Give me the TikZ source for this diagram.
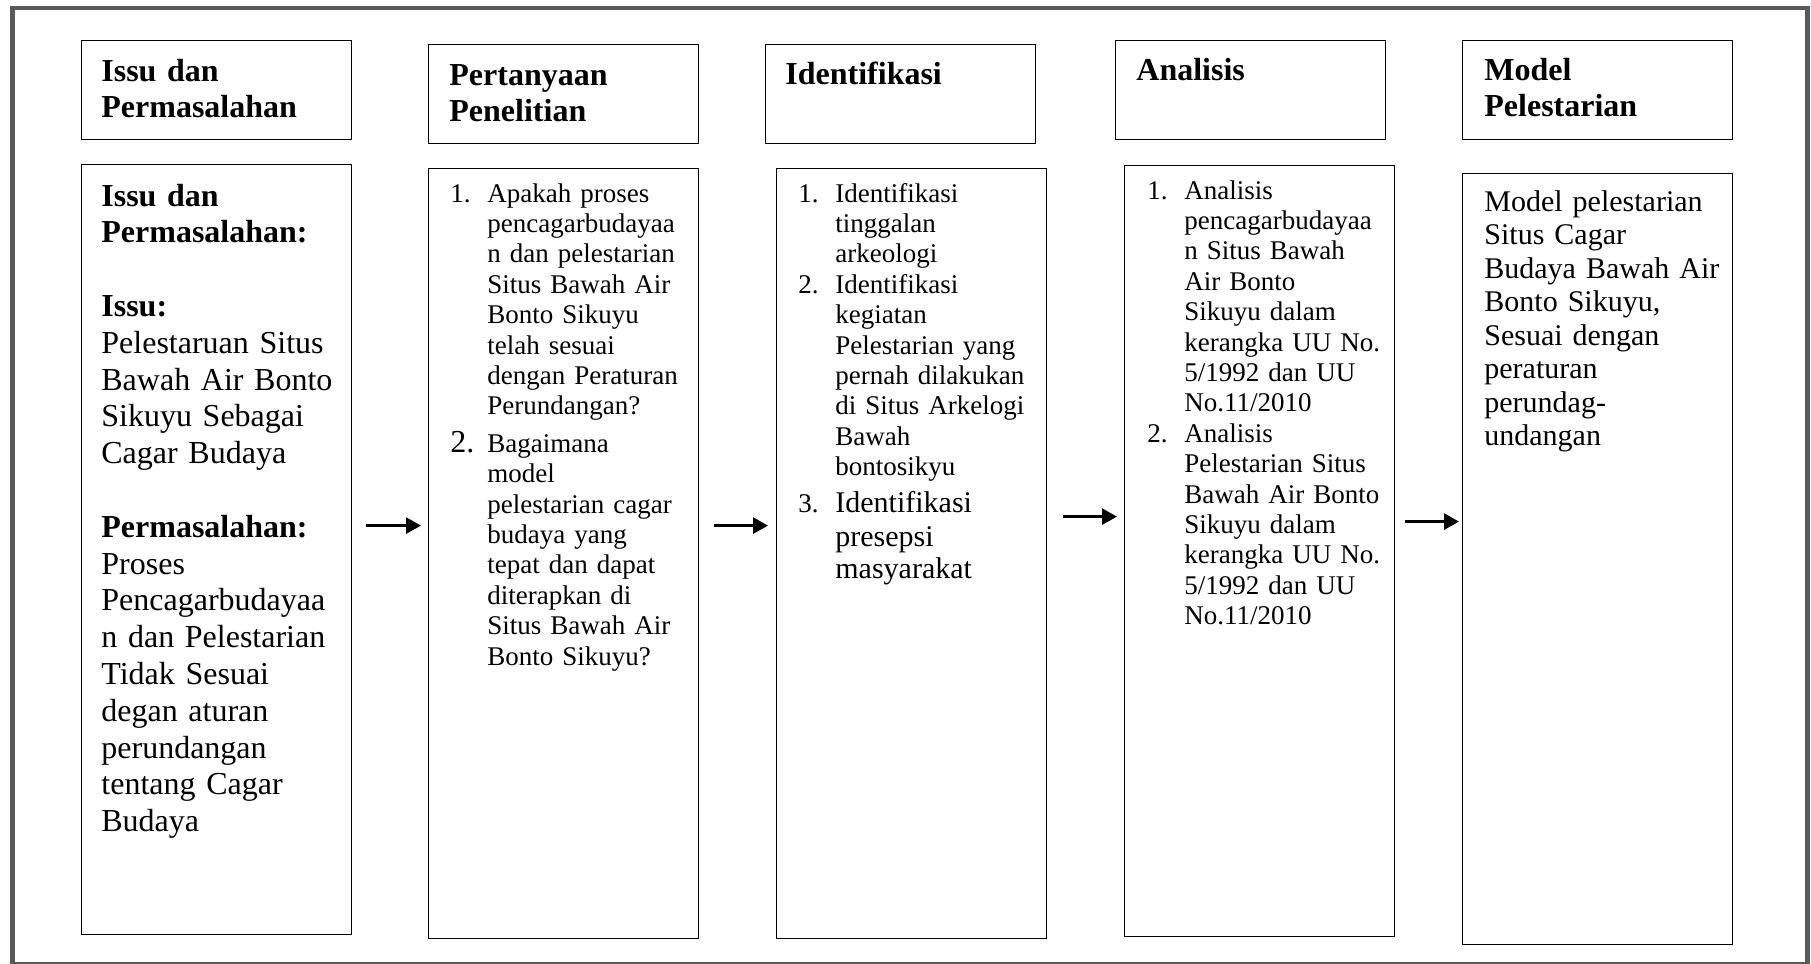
\documentclass[tikz,border=0pt]{standalone}
\usepackage{fontspec}
\setmainfont{Liberation Serif}
\usetikzlibrary{arrows.meta}
\newcommand{\itemno}[1]{\makebox[18.5pt][l]{#1}}
\newcommand{\contd}{\hspace*{18.5pt}}
\tikzset{
  head/.style={draw, line width=0.6pt, anchor=north west, minimum width=135pt, minimum height=49.5pt, inner sep=0pt},
  body/.style={draw, line width=0.6pt, anchor=north west, minimum width=135pt, minimum height=385pt, inner sep=0pt},
  headtxt/.style={anchor=base west, inner sep=0pt, text width=125pt, align=left, font=\fontsize{16}{18}\selectfont\bfseries},
  bodytxt/.style={anchor=base west, inner sep=0pt, text width=125pt, align=left, font=\fontsize{13.5}{15.2}\selectfont},
  flow/.style={line width=1.4pt, -{Triangle[length=7.5pt,width=8pt]}},
}
\begin{document}
\begin{tikzpicture}[x=0.5pt, y=0.5pt]
  \useasboundingbox (0,0) rectangle (1811,-964);
  % outer frame
  \draw[line width=2.2pt, color=black!65] (12.5,-8) rectangle (1807.5,-964);

  % headers
  \node[head] (h1) at (81,-40) {};
  \node[head] (h2) at (428,-44) {};
  \node[head] (h3) at (765,-44) {};
  \node[head] (h4) at (1115,-40) {};
  \node[head] (h5) at (1462,-40) {};
  \node[headtxt] (ht1) at ([shift={(20,-41)}]h1.north west) {Issu dan\\Permasalahan};
  \node[headtxt] (ht2) at ([shift={(21,-41)}]h2.north west) {Pertanyaan\\Penelitian};
  \node[headtxt] (ht3) at ([shift={(20,-40)}]h3.north west) {Identifikasi};
  \node[headtxt] (ht4) at ([shift={(21,-40)}]h4.north west) {Analisis};
  \node[headtxt] (ht5) at ([shift={(22,-40)}]h5.north west) {Model\\Pelestarian};

  % bodies
  \node[body] (b1) at (81,-164) {};
  \node[body] (b2) at (428,-168) {};
  \node[body] (b3) at (776,-168) {};
  \node[body, minimum height=385.5pt] (b4) at (1124,-165) {};
  \node[body, minimum height=385.5pt] (b5) at (1462,-173) {};

  \node[bodytxt, font=\fontsize{16}{18.4}\selectfont] (bt1) at ([shift={(20,-42)}]b1.north west) {%
    \textbf{Issu dan}\\
    \textbf{Permasalahan:}\\[18.4pt]
    \textbf{Issu:}\\
    Pelestaruan Situs\\
    Bawah Air Bonto\\
    Sikuyu Sebagai\\
    Cagar Budaya\\[18.4pt]
    \textbf{Permasalahan:}\\
    Proses\\
    Pencagarbudayaa\\
    n dan Pelestarian\\
    Tidak Sesuai\\
    degan aturan\\
    perundangan\\
    tentang Cagar\\
    Budaya};
  \node[bodytxt] (bt2) at ([shift={(22,-34)}]b2.north west) {%
    \itemno{1.}Apakah proses\\
    \contd pencagarbudayaa\\
    \contd n dan pelestarian\\
    \contd Situs Bawah Air\\
    \contd Bonto Sikuyu\\
    \contd telah sesuai\\
    \contd dengan Peraturan\\
    \contd Perundangan?\\[3.5pt]
    \itemno{\fontsize{16}{18}\selectfont 2.}Bagaimana\\
    \contd model\\
    \contd pelestarian cagar\\
    \contd budaya yang\\
    \contd tepat dan dapat\\
    \contd diterapkan di\\
    \contd Situs Bawah Air\\
    \contd Bonto Sikuyu?};
  \node[bodytxt] (bt3) at ([shift={(22,-34)}]b3.north west) {%
    \itemno{1.}Identifikasi\\
    \contd tinggalan\\
    \contd arkeologi\\
    \itemno{2.}Identifikasi\\
    \contd kegiatan\\
    \contd Pelestarian yang\\
    \contd pernah dilakukan\\
    \contd di Situs Arkelogi\\
    \contd Bawah\\
    \contd bontosikyu\\[3.3pt]
    \itemno{3.}{\fontsize{15}{16.75}\selectfont Identifikasi}\\[1.5pt]
    \contd {\fontsize{15}{16.75}\selectfont presepsi}\\[1pt]
    \contd {\fontsize{15}{16.75}\selectfont masyarakat}};
  \node[bodytxt] (bt4) at ([shift={(23,-34)}]b4.north west) {%
    \itemno{1.}Analisis\\
    \contd pencagarbudayaa\\
    \contd n Situs Bawah\\
    \contd Air Bonto\\
    \contd Sikuyu dalam\\
    \contd kerangka UU No.\\
    \contd 5/1992 dan UU\\
    \contd No.11/2010\\
    \itemno{2.}Analisis\\
    \contd Pelestarian Situs\\
    \contd Bawah Air Bonto\\
    \contd Sikuyu dalam\\
    \contd kerangka UU No.\\
    \contd 5/1992 dan UU\\
    \contd No.11/2010};
  \node[bodytxt, font=\fontsize{15}{16.75}\selectfont] (bt5) at ([shift={(22,-38)}]b5.north west) {%
    Model pelestarian\\
    Situs Cagar\\
    Budaya Bawah Air\\
    Bonto Sikuyu,\\
    Sesuai dengan\\
    peraturan\\
    perundag-\\
    undangan};

  % arrows
  \draw[flow, shorten <=7pt, shorten >=3.5pt] ([yshift=12pt]b1.east) -- ([yshift=12pt]b1.east -| b2.west);
  \draw[flow, shorten <=7.5pt, shorten >=4pt] ([yshift=14pt]b2.east) -- ([yshift=14pt]b2.east -| b3.west);
  \draw[flow, shorten <=8pt, shorten >=3.5pt] ([yshift=18.5pt]b3.east) -- ([yshift=18.5pt]b3.east -| b4.west);
  \draw[flow, shorten <=5pt, shorten >=1.5pt] ([yshift=14.75pt]b4.east) -- ([yshift=14.75pt]b4.east -| b5.west);
\end{tikzpicture}
\end{document}
